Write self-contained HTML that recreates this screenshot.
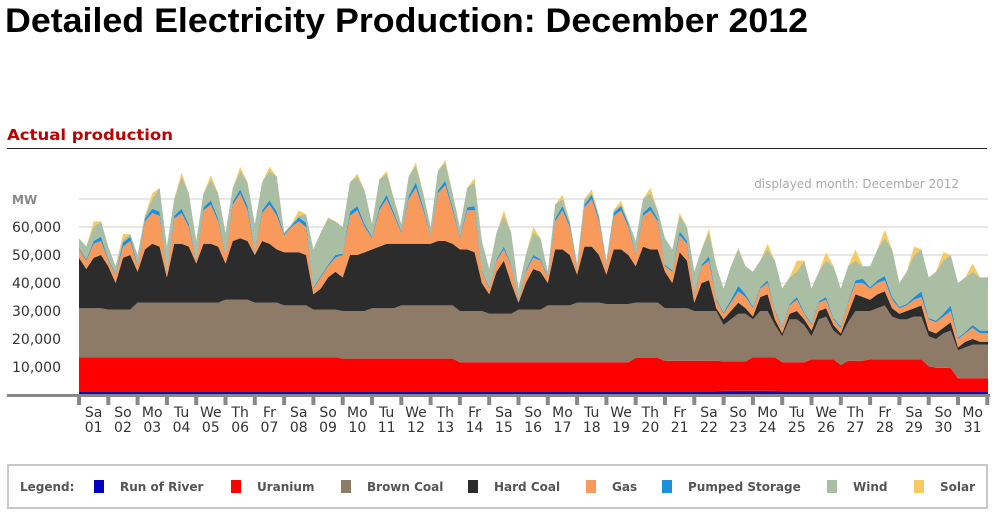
<!DOCTYPE html>
<html><head><meta charset="utf-8">
<style>
html,body{margin:0;padding:0;background:#fff;width:995px;height:515px;overflow:hidden}
svg{display:block;font-family:"DejaVu Sans","Liberation Sans",sans-serif}
</style></head>
<body>
<svg id="chart" width="995" height="515" viewBox="0 0 995 515">
<text x="5" y="32" font-size="34" font-weight="bold" fill="#000" textLength="803" lengthAdjust="spacingAndGlyphs" font-family="Liberation Sans, sans-serif">Detailed Electricity Production: December 2012</text>
<text x="7" y="140" font-size="15" font-weight="bold" fill="#c00000" textLength="166" lengthAdjust="spacingAndGlyphs">Actual production</text>
<line x1="7" y1="148.5" x2="987" y2="148.5" stroke="#222" stroke-width="1"/>
<text x="959" y="188" font-size="12" fill="#aaa" text-anchor="end">displayed month: December 2012</text>
<text x="12" y="204" font-size="12" font-weight="bold" fill="#888">MW</text>
<g id="grid"></g>
<g id="areas"></g>
<g id="axis"></g>
<g id="legend"></g>
</svg>
<script>
const days=["Sa","So","Mo","Tu","We","Th","Fr","Sa","So","Mo","Tu","We","Th","Fr","Sa","So","Mo","Tu","We","Th","Fr","Sa","So","Mo","Tu","We","Th","Fr","Sa","So","Mo"];
const yTicks=[10000,20000,30000,40000,50000,60000,70000];
const yTickLabels=["10,000","20,000","30,000","40,000","50,000","60,000",""];
const seriesNames=["Run of River","Uranium","Brown Coal","Hard Coal","Gas","Pumped Storage","Wind","Solar"];
// values in thousand MW, 4 samples per day (00h,06h,12h,18h)
const river=[1.2,1.2,1.2,1.2, 1.2,1.2,1.2,1.2, 1.2,1.2,1.2,1.2, 1.2,1.2,1.2,1.2, 1.2,1.2,1.2,1.2, 1.2,1.2,1.2,1.2, 1.2,1.2,1.2,1.2, 1.2,1.2,1.2,1.2, 1.2,1.2,1.2,1.2,
1.2,1.2,1.2,1.2, 1.2,1.2,1.2,1.2, 1.2,1.2,1.2,1.2, 1.2,1.2,1.2,1.2, 1.2,1.2,1.2,1.2, 1.2,1.2,1.2,1.2, 1.2,1.2,1.2,1.2, 1.2,1.2,1.2,1.2, 1.2,1.2,1.2,1.2, 1.2,1.2,1.2,1.2,
1.2,1.2,1.2,1.2, 1.2,1.2,1.2,1.2, 1.2,1.2,1.2,1.2, 1.5,1.5,1.5,1.5, 1.5,1.5,1.5,1.5, 1.2,1.2,1.2,1.2, 1.2,1.2,1.2,1.2, 1.2,1.2,1.2,1.2, 1.2,1.2,1.2,1.2, 1.2,1.2,1.2,1.2, 1.2,1.2,1.2,1.2, 1.2,1.2,1.2,1.2];
const uranium=[12.3,12.3,12.3,12.3, 12.3,12.3,12.3,12.3, 12.3,12.3,12.3,12.3, 12.3,12.3,12.3,12.3, 12.3,12.3,12.3,12.3, 12.3,12.3,12.3,12.3, 12.3,12.3,12.3,12.3, 12.3,12.3,12.3,12.3, 12.3,12.3,12.3,12.3,
11.8,11.8,11.8,11.8, 11.8,11.8,11.8,11.8, 11.8,11.8,11.8,11.8, 11.8,11.8,11.8,11.8, 10.5,10.5,10.5,10.5, 10.5,10.5,10.5,10.5, 10.5,10.5,10.5,10.5, 10.5,10.5,10.5,10.5, 10.5,10.5,10.5,10.5, 10.5,10.5,10.5,10.5,
12,12,12,12, 11,11,11,11, 11,11,11,11, 10.5,10.5,10.5,10.5, 12,12,12,12, 10.5,10.5,10.5,10.5, 11.5,11.5,11.5,11.5, 9.5,11,11,11, 11.5,11.5,11.5,11.5, 11.5,11.5,11.5,11.5, 9,8.5,8.5,8.4, 4.8,4.8,4.8,4.8];
const brown=[17.5,17.5,17.5,17.5, 17,17,17,17, 19.5,19.5,19.5,19.5, 19.5,19.5,19.5,19.5, 19.5,19.5,19.5,19.5, 20.5,20.5,20.5,20.5, 19.5,19.5,19.5,19.5, 18.5,18.5,18.5,18.5, 17,17,17,17,
17,17,17,17, 18,18,18,18, 19,19,19,19, 19,19,19,19, 18.3,18.3,18.3,18.3, 17.3,17.3,17.3,17.3, 18.8,18.8,18.8,18.8, 20.3,20.3,20.3,20.3, 21.3,21.3,21.3,21.3, 20.8,20.8,20.8,20.8,
19.8,19.8,19.8,19.8, 18.8,18.8,18.8,18.8, 17.8,17.8,17.8,17.8, 13,15,17,17, 13.5,16.5,16.5,11.5, 9.3,15.3,15.3,13.3, 8.3,14.3,15.3,10.3, 10.3,13.8,17.8,17.8, 17.3,18.3,19.3,15.3, 14.3,14.3,15.3,15.3, 10.8,10.3,12.3,13.4, 10,11,12,12];
const hard=[18,14,18,19, 15.5,9.5,18.5,19.5, 11,19,21,20, 9,21,21,20, 14,21,21,20, 13,21,22,21, 17,22,21,19, 19,19,19,18, 5.5,7.5,11.5,13.5,
12,20,20,21, 21,22,23,23, 22,22,22,22, 22,23,23,22, 22,22,21,10, 7,15,19,11, 2.5,9.5,14.5,13.5, 8,20,20,18, 10,20,20,17, 10.5,19.5,19.5,17.5,
13,20,19,19, 13,9,20,17, 3,10,11,1, 2,3,4,2, 1,5,6,2, 1,2,3,2, 2,3,3,2, 1,3,6,5, 4,5,5,3, 2,3,3,4, 2,2,2,3, 1,2,2,1];
const gas=[3,3,5,5, 2,3,4,5, 2,10,11,11, 2,9,11,7, 1,12,14,9, 3,13,16,11, 1,10,14,12, 6,9,11,10, 2,4,4,5,
8,14,16,9, 4,13,16,10, 4,16,20,12, 3,17,20,12, 4,14,15,4, 2,4,4,6, 1,4,4,4, 2,10,14,10, 2,14,17,12, 3,12,14,10,
4,11,14,10, 2,4,6,6, 3,6,7,3, 2,3,4,4, 3,3,4,3, 2,3,4,2, 2,3,3,2, 2,4,4,5, 4,4,4,3, 2,2,3,3, 4,4,4,4, 3,3,4,3];
const pumped=[0.5,0.5,1,1.5, 0.5,0.5,1.5,1.5, 0.5,1,1.5,1.5, 0.5,1,1.5,1, 0.5,1,1.5,1, 0.5,1,1.5,1.5, 0.5,1,1.5,1.5, 0.5,0.5,1.5,1.5, 0.5,0.5,0.5,1,
0.5,1.5,1.5,1, 0.5,1,1.5,1, 0.5,1,2,1, 0.5,1,1.5,1, 0.5,1,1.5,0.5, 0.5,0.5,1,0.5, 0.5,0.5,1,0.5, 0.5,1,1.5,1, 0.5,1,1.5,1, 0.5,1,1.5,1,
0.5,1,1.5,1, 0.5,0.5,1.5,1, 0.5,0.5,1.5,0.5, 0.5,1,2,1, 0.5,0.5,1,0.5, 0.5,0.5,1,0.5, 0.5,0.5,1,0.5, 0.5,0.5,1,1.5, 0.5,1,1.5,1, 0.5,0.5,1,2, 0.5,0.5,1,2, 0.5,0.5,1,1];
const wind=[3.5,4.5,5,5.5, 4.5,2.5,1,1, 3.5,1,3.5,8.5, 8.5,6,11.5,11, 6.5,5,7.5,9, 7.5,5,6.5,8.5, 9.5,10,10.5,12.5, 0.5,0.5,0.5,3, 13.5,15.5,16.5,12,
9.5,10.5,10.5,12, 4.5,10,7.5,5, 2.5,7,6,5, 2.5,7,6.5,5, 3.5,7,8.5,10.5, 6.5,9.5,11,11.5, 3.5,5.5,8,7.5, 1.5,5,2.5,1, 1.5,2,0.5,1, 1.5,1,0.5,1,
4.5,5,4.5,3, 9.5,7.5,5.5,5, 7.5,5.5,8.5,11.5, 8.5,12,13,10, 12.5,9.5,11,17.5, 13.5,9.5,9,18.5, 12.5,10.5,13,18.5, 13.5,12.5,7,4.5, 7.5,11,13.5,17, 8.5,11.5,15,15, 14.5,17.5,19,18, 19.5,19.5,19,19];
const solar=[0,0,2,0, 0,0,2,0, 0,0,2,0, 0,0,1.5,0, 0,0,1.5,0, 0,0,1.5,0, 0,0,1.5,0, 0,0,2,0, 0,0,0.5,0,
0,0,1,0, 0,0,1,0, 0,0,1,0, 0,0,1,0, 0,0,1.5,0, 0,0,2,0, 0,0,2,0, 0,0,1.5,0, 0,0,1.5,0, 0,0,1.5,0,
0,0,2,0, 0,0,1,0, 0,0,1.5,0, 0,0,0.5,0, 0,0,2,0, 0,0,4,0, 0,0,3,0, 0,0,4,0, 0,0,3,0, 0,0,3,0, 0,0,3,0, 0,0,3,0];

const colors=["#0000c0","#ff0000","#8d7a67","#2c2c2c","#f79a5b","#1a90dc","#a9bea3","#f8ca62"];
const layerKeys=["run-of-river","uranium","brown-coal","hard-coal","gas","pumped-storage","wind","solar"];
const series=[river,uranium,brown,hard,gas,pumped,wind,solar];
const NS="http://www.w3.org/2000/svg";
const X0=79, DAYW=29.3, Y0=395, PXPER10K=28;
function xScale(i){return X0+i*(DAYW/4);}
function yScale(v){return Y0-v*1000*PXPER10K/10000;}
function mk(tag,attrs,parent){const e=document.createElementNS(NS,tag);for(const k in attrs)e.setAttribute(k,attrs[k]);parent.appendChild(e);return e;}

const grid=document.getElementById('grid');
yTicks.forEach((t,i)=>{
  const y=yScale(t/1000);
  const gl=mk('line',{x1:X0,x2:988,y1:y,y2:y,stroke:'#cfcfcf','stroke-width':1},grid);
  
  
  if(yTickLabels[i]){
    const tl=mk('text',{x:12,y:y+5,'font-size':14,fill:'#333'},grid);
    tl.textContent=yTickLabels[i];
    
    
  }
});

const areas=document.getElementById('areas');
const n=Math.min(river.length,uranium.length,brown.length,hard.length,gas.length,pumped.length,wind.length,solar.length);
let base=new Array(n).fill(0);
series.forEach((s,k)=>{
  const top=base.map((b,i)=>b+(s[i]||0));
  let d='M'+xScale(0)+','+yScale(top[0]);
  for(let i=1;i<n;i++)d+='L'+xScale(i).toFixed(1)+','+yScale(top[i]).toFixed(1);
  d+='L'+(988)+','+yScale(top[n-1]).toFixed(1);
  d+='L'+(988)+','+yScale(base[n-1]).toFixed(1);
  for(let i=n-1;i>=0;i--)d+='L'+xScale(i).toFixed(1)+','+yScale(base[i]).toFixed(1);
  d+='Z';
  const p=mk('path',{d:d,fill:colors[k]},areas);
  
  
  base=top;
});

const axis=document.getElementById('axis');
const ab=mk('rect',{x:7,y:394,width:983,height:3,fill:'#888'},axis);


for(let d=0;d<=days.length;d++){
  const x=X0+d*DAYW;
  const tk=mk('rect',{x:x-2,y:397,width:4,height:8,fill:'#888'},axis);
  
  
  if(d<days.length){
    const cx=x+DAYW/2;
    const t1=mk('text',{x:cx,y:417,'font-size':14,fill:'#333','text-anchor':'middle'},axis);
    t1.textContent=days[d];
    
    
    const t2=mk('text',{x:cx,y:432,'font-size':14,fill:'#333','text-anchor':'middle'},axis);
    t2.textContent=String(d+1).padStart(2,'0');
    
    
  }
}

const lg=document.getElementById('legend');
const box=mk('rect',{x:8,y:465,width:979,height:43,fill:'#fff',stroke:'#c8c8c8','stroke-width':2},lg);


const lt=mk('text',{x:20,y:491,'font-size':12,'font-weight':'bold',fill:'#555'},lg);
lt.textContent='Legend:';


const sqX=[94,231,341,468,586,662,827,914];
seriesNames.forEach((nm,k)=>{
  const sq=mk('rect',{x:sqX[k],y:480,width:10,height:13,fill:colors[k]},lg);
  
  
  const t=mk('text',{x:sqX[k]+26,y:491,'font-size':12,'font-weight':'bold',fill:'#555'},lg);
  t.textContent=nm;
  
  
});
</script>
</body></html>
